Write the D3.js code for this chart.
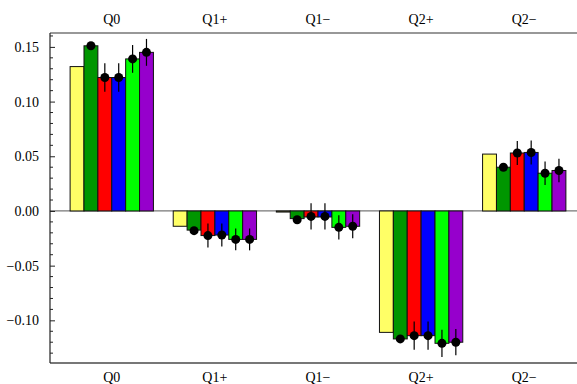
<!DOCTYPE html>
<html>
<head>
<meta charset="utf-8">
<script src="https://cdn.jsdelivr.net/npm/d3@7"></script>
<style>
  html, body { margin: 0; padding: 0; background: #fff; }
  svg { display: block; }
</style>
</head>
<body>
<svg id="chart" width="577" height="384"></svg>
<script>
const categories = ["Q0", "Q1+", "Q1\u2212", "Q2+", "Q2\u2212"];
const seriesNames = ["s1", "s2", "s3", "s4", "s5", "s6"];
const seriesColors = ["#FFFF66", "#009600", "#FF0000", "#0000FF", "#00FF00", "#9600CC"];

// bar heights per series (rows) for each category (columns)
const barValues = [
  [0.132, -0.014, -0.001, -0.111, 0.052],
  [0.151, -0.0175, -0.007, -0.117, 0.040],
  [0.122, -0.0225, -0.0055, -0.114, 0.053],
  [0.122, -0.022, -0.0055, -0.114, 0.0535],
  [0.139, -0.026, -0.015, -0.121, 0.0345],
  [0.145, -0.026, -0.014, -0.120, 0.037]
];
// measured points (series 2..6) with errors
const pointValues = [
  null,
  [0.151, -0.018, -0.008, -0.117, 0.040],
  [0.122, -0.0225, -0.005, -0.114, 0.053],
  [0.122, -0.022, -0.005, -0.114, 0.0535],
  [0.139, -0.026, -0.015, -0.121, 0.0345],
  [0.145, -0.026, -0.014, -0.120, 0.037]
];
const pointErrors = [
  null,
  [0.001, 0.001, 0.001, 0.001, 0.001],
  [0.013, 0.011, 0.012, 0.013, 0.011],
  [0.013, 0.0105, 0.012, 0.013, 0.011],
  [0.0127, 0.010, 0.011, 0.0125, 0.0107],
  [0.0123, 0.010, 0.011, 0.012, 0.0107]
];
const majorTicks = [-0.10, -0.05, 0.00, 0.05, 0.10, 0.15];
const tickLabels = ["\u22120.10", "\u22120.05", "0.00", "0.05", "0.10", "0.15"];

const FONT = "'Liberation Serif', 'Times New Roman', Tinos, 'DejaVu Serif', serif";
const svg = d3.select("#chart");
const mLeft = 50, mRight = 577, mTop = 33, mBottom = 363;

const x = d3.scaleBand().domain(categories).range([60, 576]).paddingInner(0.192).paddingOuter(0.098);
const xs = d3.scaleBand().domain(seriesNames).range([0, x.bandwidth()]);
const y = d3.scaleLinear().domain([-0.139, 0.1627]).range([mBottom, mTop]);

// zero line
svg.append("line").attr("x1", mLeft).attr("x2", mRight).attr("y1", y(0)).attr("y2", y(0))
  .attr("stroke", "#777").attr("stroke-width", 1.2);

// bars
seriesNames.forEach((s, si) => {
  svg.append("g").selectAll("rect").data(barValues[si]).join("rect")
    .attr("x", (d, i) => x(categories[i]) + xs(s))
    .attr("width", xs.bandwidth())
    .attr("y", d => Math.min(y(d), y(0)))
    .attr("height", d => Math.abs(y(d) - y(0)))
    .attr("fill", seriesColors[si])
    .attr("stroke", "#111").attr("stroke-width", 1);
});

// error bars and points
seriesNames.forEach((s, si) => {
  if (!pointValues[si]) return;
  const g = svg.append("g");
  pointValues[si].forEach((v, i) => {
    const cx = x(categories[i]) + xs(s) + xs.bandwidth() / 2;
    const e = pointErrors[si][i];
    g.append("line").attr("x1", cx).attr("x2", cx).attr("y1", y(v - e)).attr("y2", y(v + e))
      .attr("stroke", "#000").attr("stroke-width", 1.2);
    g.append("circle").attr("cx", cx).attr("cy", y(v)).attr("r", 4.5).attr("fill", "#000");
  });
});

// frame: top line, left axis, bottom axis
svg.append("line").attr("x1", mLeft).attr("x2", mRight).attr("y1", mTop).attr("y2", mTop)
  .attr("stroke", "#333").attr("stroke-width", 1.2);
svg.append("line").attr("x1", mLeft).attr("x2", mRight).attr("y1", mBottom).attr("y2", mBottom)
  .attr("stroke", "#777").attr("stroke-width", 2);
svg.append("line").attr("x1", mLeft).attr("x2", mLeft).attr("y1", mTop).attr("y2", mBottom)
  .attr("stroke", "#222").attr("stroke-width", 1.2);

// y ticks
const minorTicks = d3.range(-13, 17).map(k => k / 100).filter(t => !majorTicks.some(m => Math.abs(m - t) < 1e-9));
const yAxis = d3.axisLeft(y).tickValues(majorTicks).tickSize(-5).tickPadding(11)
  .tickFormat((d, i) => tickLabels[i]);
const ag = svg.append("g").attr("transform", `translate(${mLeft},0)`).call(yAxis);
ag.select(".domain").remove();
ag.attr("font-family", FONT).attr("font-size", 14);
ag.selectAll(".tick line").attr("stroke", "#222");
ag.selectAll(".tick text").attr("fill", "#000");
svg.append("g").selectAll("line").data(minorTicks).join("line")
  .attr("x1", mLeft).attr("x2", mLeft + 3).attr("y1", d => y(d)).attr("y2", d => y(d))
  .attr("stroke", "#222").attr("stroke-width", 1);

// category labels top and bottom
svg.append("g").attr("font-family", FONT).attr("font-size", 14).attr("fill", "#000")
  .selectAll("text").data(categories).join("text")
  .attr("x", d => x(d) + x.bandwidth() / 2).attr("y", 24)
  .attr("text-anchor", "middle").text(d => d);
svg.append("g").attr("font-family", FONT).attr("font-size", 14).attr("fill", "#000")
  .selectAll("text").data(categories).join("text")
  .attr("x", d => x(d) + x.bandwidth() / 2).attr("y", 382)
  .attr("text-anchor", "middle").text(d => d);
</script>
</body>
</html>
